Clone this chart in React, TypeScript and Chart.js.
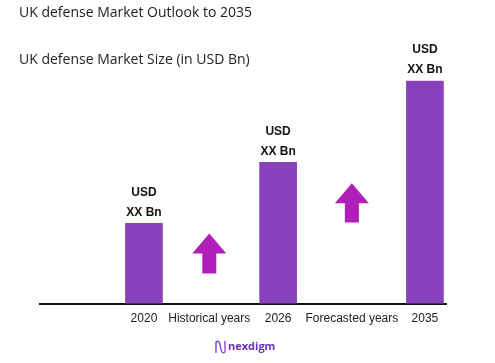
import React, { useEffect, useRef } from "react";
import { Chart, registerables } from "chart.js";

Chart.register(...registerables);

const mainTitle = "UK defense Market Outlook to 2035";
const subTitle = "UK defense Market Size (in USD Bn)";
const slotLabels = ["2020", "Historical years", "2026", "Forecasted years", "2035"];
const slotPositions = [0, 0.93, 1.91, 2.96, 4];
const barSlots = [0, 2, 4];
const barValues = [80, 141, 222];
const barLabelLines = ["USD", "XX Bn"];
const arrowSlots = [1, 3];
const arrowBase = [30, 81];
const arrowTip = [70, 120];
const brandName = "nexdigm";

const BAR_COLOR = "#8940bb";
const ARROW_COLOR = "#b01fb8";

const overlayPlugin = {
  id: "overlay",
  afterDraw(chart: any) {
    const ctx = chart.ctx as CanvasRenderingContext2D;
    const xs = chart.scales.x;
    const ys = chart.scales.y;
    ctx.save();
    // titles
    ctx.fillStyle = "#222";
    ctx.textBaseline = "middle";
    ctx.textAlign = "left";
    ctx.font = "14px 'Open Sans', sans-serif";
    ctx.fillText(mainTitle, 19, 13);
    ctx.fillText(subTitle, 19, 60);

    // bar value labels
    ctx.font = "bold 12px 'Liberation Sans', Arial, sans-serif";
    ctx.textAlign = "center";
    ctx.fillStyle = "#111";
    barSlots.forEach((s, i) => {
      const x = xs.getPixelForValue(slotPositions[s]);
      const top = ys.getPixelForValue(barValues[i]);
      ctx.fillText(barLabelLines[1], x, top - 11);
      ctx.fillText(barLabelLines[0], x, top - 31);
    });

    // arrows
    ctx.fillStyle = ARROW_COLOR;
    arrowSlots.forEach((s, i) => {
      const cx = xs.getPixelForValue(slotPositions[s]);
      const tip = ys.getPixelForValue(arrowTip[i]);
      const base = ys.getPixelForValue(arrowBase[i]);
      const headH = 20;
      const headW = 17;
      const shaftW = 7;
      ctx.beginPath();
      ctx.moveTo(cx, tip);
      ctx.lineTo(cx + headW, tip + headH);
      ctx.lineTo(cx + shaftW, tip + headH);
      ctx.lineTo(cx + shaftW, base);
      ctx.lineTo(cx - shaftW, base);
      ctx.lineTo(cx - shaftW, tip + headH);
      ctx.lineTo(cx - headW, tip + headH);
      ctx.closePath();
      ctx.fill();
    });

    // logo
    const g = ctx.createLinearGradient(215, 340, 226, 353);
    g.addColorStop(0, "#5a3fd0");
    g.addColorStop(1, "#b04fd8");
    ctx.strokeStyle = g;
    ctx.lineWidth = 1.4;
    ctx.beginPath();
    ctx.moveTo(216, 353);
    ctx.lineTo(216, 342);
    ctx.bezierCurveTo(222, 337, 219, 357, 225, 352);
    ctx.lineTo(225, 341);
    ctx.stroke();
    ctx.fillStyle = "#6a2fb4";
    ctx.textAlign = "left";
    ctx.font = "bold 11px 'Open Sans', sans-serif";
    ctx.fillText(brandName, 228, 347);
    ctx.restore();
  },
};

export default function App() {
  const ref = useRef<HTMLCanvasElement>(null);
  useEffect(() => {
    if (!ref.current) return;
    const chart = new Chart(ref.current, {
      type: "bar",
      data: {
        datasets: [
          {
            data: barSlots.map((s, i) => ({ x: slotPositions[s], y: barValues[i] })) as any,
            backgroundColor: BAR_COLOR,
            barThickness: 37,
          },
        ],
      },
      options: {
        animation: false,
        responsive: false,
        layout: { padding: { left: 40, right: 49, top: 63, bottom: 29 } },
        plugins: { legend: { display: false }, tooltip: { enabled: false } },
        scales: {
          x: {
            type: "linear",
            offset: false,
            min: -1.48,
            max: 4.3,
            grid: { display: false, drawTicks: false, offset: false },
            border: { display: true, color: "#111", width: 2 },
            afterBuildTicks: (axis: any) => {
              axis.ticks = slotPositions.map((p) => ({ value: p }));
            },
            ticks: {
              autoSkip: false,
              maxRotation: 0,
              padding: 8,
              color: "#222",
              font: { family: "'Liberation Sans', Arial, sans-serif", size: 12 },
              callback: (v: any) => {
                const idx = slotPositions.indexOf(v as number);
                return idx >= 0 ? slotLabels[idx] : "";
              },
            },
          },
          y: { display: false, min: 0, max: 240 },
        },
      },
      plugins: [overlayPlugin],
    });
    return () => chart.destroy();
  }, []);
  return (
    <div style={{ position: "fixed", left: 0, top: 0, width: 495, height: 363, background: "#fff" }}>
      <canvas ref={ref} width={495} height={363} style={{ display: "block" }} />
    </div>
  );
}
